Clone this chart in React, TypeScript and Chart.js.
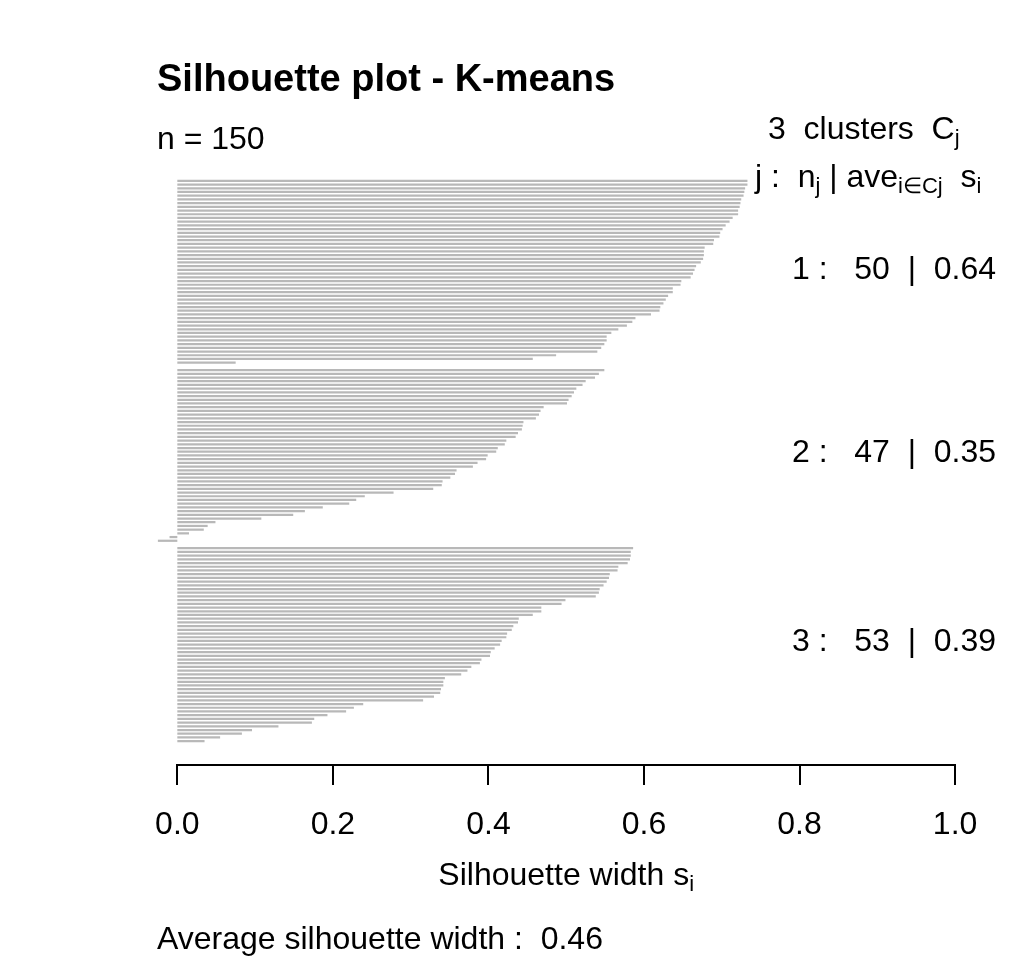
import { useEffect, useRef } from "react"
import { Chart, registerables } from "chart.js"

Chart.register(...registerables)

// silhouette widths per cluster, sorted as in the plot (top to bottom)
const cluster1 = [
  0.733, 0.733, 0.73, 0.729, 0.728, 0.725, 0.724, 0.723, 0.721, 0.721,
  0.714, 0.71, 0.705, 0.701, 0.698, 0.697, 0.69, 0.689, 0.678, 0.677,
  0.677, 0.676, 0.673, 0.667, 0.665, 0.663, 0.66, 0.648, 0.647, 0.637,
  0.637, 0.631, 0.628, 0.625, 0.621, 0.62, 0.609, 0.589, 0.585, 0.578,
  0.567, 0.558, 0.552, 0.552, 0.549, 0.545, 0.54, 0.487, 0.457, 0.075,
]
const cluster2 = [
  0.549, 0.542, 0.537, 0.525, 0.521, 0.513, 0.51, 0.507, 0.503, 0.501,
  0.471, 0.467, 0.465, 0.461, 0.445, 0.444, 0.443, 0.438, 0.435, 0.423,
  0.421, 0.412, 0.41, 0.399, 0.397, 0.386, 0.38, 0.359, 0.357, 0.351,
  0.341, 0.34, 0.329, 0.278, 0.241, 0.23, 0.221, 0.187, 0.164, 0.149,
  0.108, 0.049, 0.039, 0.034, 0.015, -0.01, -0.025,
]
const cluster3 = [
  0.586, 0.583, 0.583, 0.582, 0.579, 0.567, 0.566, 0.556, 0.555, 0.552,
  0.548, 0.543, 0.542, 0.538, 0.499, 0.494, 0.468, 0.468, 0.457, 0.439,
  0.438, 0.432, 0.43, 0.424, 0.423, 0.417, 0.415, 0.408, 0.403, 0.402,
  0.391, 0.389, 0.378, 0.373, 0.365, 0.344, 0.342, 0.342, 0.339, 0.338,
  0.33, 0.316, 0.239, 0.227, 0.217, 0.193, 0.176, 0.173, 0.13, 0.096,
  0.083, 0.055, 0.035,
]
const clusterAverages = [0.64, 0.35, 0.39]
const xTicks = [0, 0.2, 0.4, 0.6, 0.8, 1.0]
const averageWidth = 0.46
const titleText = "Silhouette plot - K-means"

const clusters = [cluster1, cluster2, cluster3]
const totalN = clusters.reduce((s, c) => s + c.length, 0)

// one empty slot between clusters
const values: (number | null)[] = []
const clusterMid: number[] = []
clusters.forEach((c, i) => {
  if (i > 0) values.push(null)
  clusterMid.push(values.length + (c.length - 1) / 2)
  values.push(...c)
})
const labels = values.map((_, i) => String(i))

const FONT = '"Liberation Sans", Arial, Helvetica, sans-serif'

type Part = [string, boolean?]

function drawRich(
  ctx: CanvasRenderingContext2D,
  parts: Part[],
  x: number,
  y: number,
  align: "left" | "right" | "center",
  size: number,
  bold = false
) {
  const main = `${bold ? "bold " : ""}${size}px ${FONT}`
  const sub = `${Math.round(size * 0.7)}px ${FONT}`
  const widths = parts.map(([t, s]) => {
    ctx.font = s ? sub : main
    return ctx.measureText(t).width
  })
  const total = widths.reduce((a, b) => a + b, 0)
  let cx = align === "left" ? x : align === "right" ? x - total : x - total / 2
  ctx.textAlign = "left"
  ctx.textBaseline = "middle"
  parts.forEach(([t, s], i) => {
    ctx.font = s ? sub : main
    ctx.fillText(t, cx, s ? y + size * 0.27 : y)
    cx += widths[i]
  })
}

const annotations = {
  id: "silhouetteText",
  afterDraw(chart: Chart) {
    const { ctx } = chart
    const xs = chart.scales.x
    const ys = chart.scales.y
    ctx.save()
    ctx.fillStyle = "#000"

    // axis line from 0 to 1 with ticks
    const axisY = 765
    ctx.strokeStyle = "#000"
    ctx.lineWidth = 2
    ctx.beginPath()
    ctx.moveTo(xs.getPixelForValue(xTicks[0]), axisY)
    ctx.lineTo(xs.getPixelForValue(xTicks[xTicks.length - 1]), axisY)
    xTicks.forEach((t) => {
      const px = Math.round(xs.getPixelForValue(t))
      ctx.moveTo(px, axisY - 1)
      ctx.lineTo(px, axisY + 20)
    })
    ctx.stroke()

    drawRich(ctx, [[titleText]], 157, 81, "left", 38, true)
    drawRich(ctx, [[`n = ${totalN}`]], 157, 140, "left", 32)
    drawRich(ctx, [[`${clusters.length}  clusters  C`], ["j", true]], 768, 130, "left", 32)
    drawRich(
      ctx,
      [["j :  n"], ["j", true], [" | ave"], ["i\u2208Cj", true], ["  s"], ["i", true]],
      755,
      178,
      "left",
      32
    )

    clusters.forEach((c, i) => {
      const y = (ys.getPixelForValue(Math.floor(clusterMid[i])) + ys.getPixelForValue(Math.ceil(clusterMid[i]))) / 2
      drawRich(
        ctx,
        [[`${i + 1} :   ${c.length}  |  ${clusterAverages[i].toFixed(2)}`]],
        996,
        y - 2,
        "right",
        32
      )
    })

    drawRich(ctx, [["Silhouette width s"], ["i", true]], xs.getPixelForValue(0.5), 876, "center", 32)
    drawRich(ctx, [[`Average silhouette width :  ${averageWidth.toFixed(2)}`]], 157, 940, "left", 32)
    ctx.restore()
  },
}

const SilhouetteChart: React.FC = () => {
  const chartRef = useRef<HTMLCanvasElement | null>(null)
  const chartInstance = useRef<Chart | null>(null)

  useEffect(() => {
    document.body.style.margin = "0"
    if (!chartRef.current) return
    const ctx = chartRef.current.getContext("2d")
    if (!ctx) return
    if (chartInstance.current) chartInstance.current.destroy()

    chartInstance.current = new Chart(ctx, {
      type: "bar",
      data: {
        labels,
        datasets: [
          {
            data: values,
            backgroundColor: "#b8b8b8",
            borderWidth: 0,
            barPercentage: 0.6,
            categoryPercentage: 1,
          },
        ],
      },
      options: {
        indexAxis: "y",
        responsive: false,
        animation: false,
        layout: { padding: { top: 179, left: 126, right: 49, bottom: 0 } },
        scales: {
          x: {
            type: "linear",
            min: -0.066,
            max: 1.041,
            grid: { display: false, drawTicks: false },
            border: { display: false },
            afterBuildTicks: (scale) => {
              scale.ticks = xTicks.map((v) => ({ value: v }))
            },
            afterFit: (scale) => {
              scale.height = 217
            },
            ticks: {
              autoSkip: false,
              maxRotation: 0,
              padding: 0,
              color: "#000",
              // tall line box pushes the labels down below the axis line
              font: { family: FONT, size: 32, lineHeight: "164px" },
              callback: (v) => Number(v).toFixed(1),
            },
          },
          y: {
            display: false,
            offset: true,
          },
        },
        plugins: {
          legend: { display: false },
          tooltip: { enabled: false },
        },
      },
      plugins: [annotations],
    })

    return () => {
      if (chartInstance.current) {
        chartInstance.current.destroy()
        chartInstance.current = null
      }
    }
  }, [])

  return <canvas ref={chartRef} width={1036} height={960} style={{ display: "block" }} />
}

export default function App() {
  return (
    <div style={{ width: 1036, height: 960, background: "#fff" }}>
      <SilhouetteChart />
    </div>
  )
}
